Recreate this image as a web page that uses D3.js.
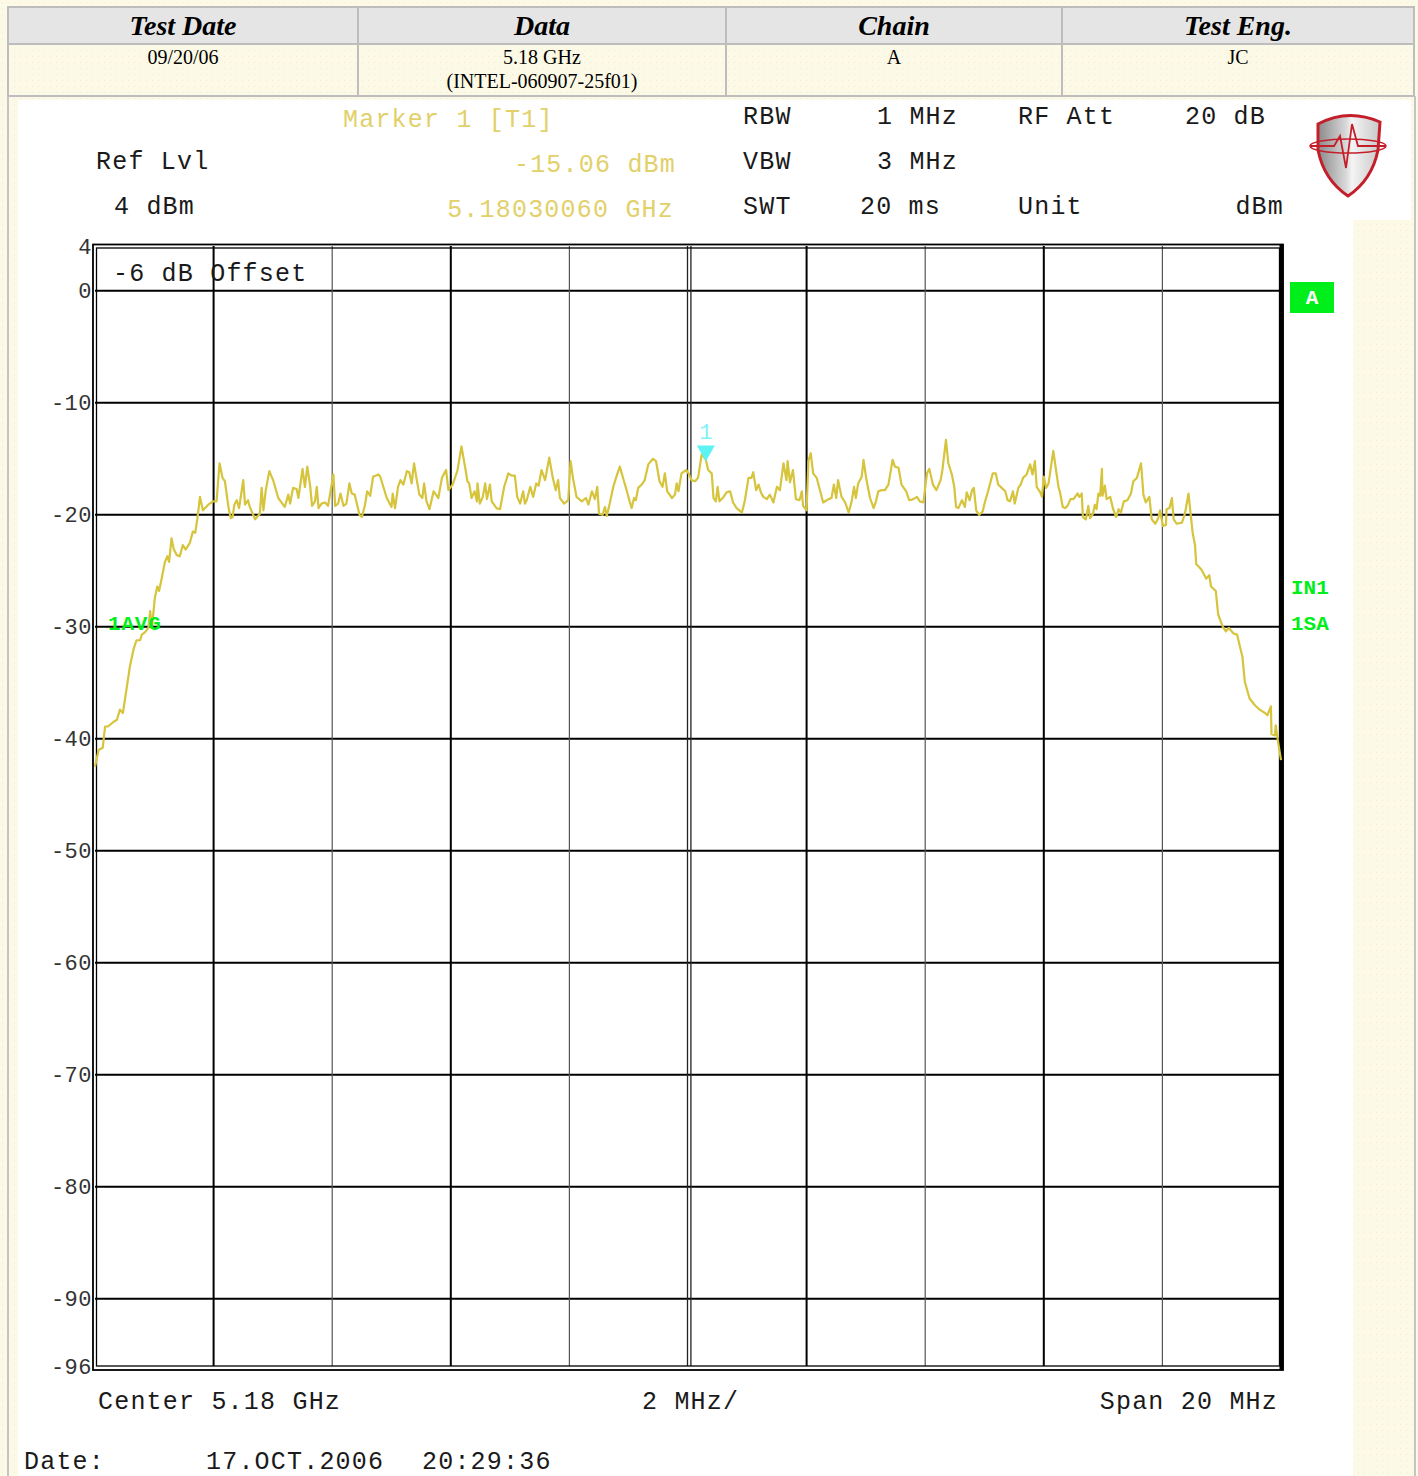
<!DOCTYPE html>
<html>
<head>
<meta charset="utf-8">
<script src="https://cdn.jsdelivr.net/npm/d3@7"></script>
<style>
  body { margin: 0; background: #fcfae6; }
  svg { display: block; }
</style>
</head>
<body>
<script>
// * DATA
const headers = ["Test Date", "Data", "Chain", "Test Eng."];
const cellLines = [["09/20/06"], ["5.18 GHz", "(INTEL-060907-25f01)"], ["A"], ["JC"]];
const colEdges = [8, 358, 726, 1062, 1414];

const yTicks = [4, 0, -10, -20, -30, -40, -50, -60, -70, -80, -90, -96];
const hGrid = [0, -10, -20, -30, -40, -50, -60, -70, -80, -90];
const vGrid = [-8, -6, -4, -2, 2, 4, 6, 8];

const markerFreq = 0.3006; // MHz from centre
const markerLevel = -15.06;

// [MHz offset from 5.18 GHz, dBm]
const spectrum = [
	[-10.00,-42.5],[-9.94,-41.0],[-9.87,-40.8],[-9.83,-38.9],[-9.78,-38.9],[-9.69,-38.5],[-9.63,-38.3],[-9.58,-37.4],[-9.53,-37.7],[-9.47,-35.6],
	[-9.41,-33.5],[-9.35,-32.0],[-9.30,-31.2],[-9.24,-31.2],[-9.21,-30.7],[-9.16,-30.5],[-9.10,-30.1],[-9.07,-28.6],[-9.04,-30.1],[-8.99,-27.4],
	[-8.95,-26.4],[-8.92,-26.8],[-8.88,-25.8],[-8.82,-24.2],[-8.78,-23.7],[-8.75,-24.2],[-8.71,-22.1],[-8.67,-23.1],[-8.62,-23.6],[-8.57,-23.7],
	[-8.52,-22.7],[-8.47,-23.1],[-8.40,-22.5],[-8.35,-21.5],[-8.31,-21.6],[-8.27,-20.2],[-8.23,-18.4],[-8.18,-19.6],[-8.09,-19.1],[-8.01,-18.8],
	[-7.95,-18.8],[-7.90,-15.4],[-7.85,-16.7],[-7.81,-17.0],[-7.75,-19.3],[-7.71,-20.3],[-7.68,-20.2],[-7.65,-19.1],[-7.61,-18.7],[-7.57,-19.4],
	[-7.50,-16.9],[-7.47,-19.1],[-7.42,-18.7],[-7.39,-19.3],[-7.30,-20.4],[-7.22,-19.9],[-7.19,-17.6],[-7.16,-19.6],[-7.12,-17.8],[-7.06,-16.1],
	[-6.99,-17.0],[-6.91,-18.5],[-6.80,-19.3],[-6.74,-18.2],[-6.71,-19.0],[-6.66,-17.6],[-6.60,-17.7],[-6.57,-18.5],[-6.50,-15.9],[-6.46,-17.5],
	[-6.42,-15.7],[-6.37,-17.5],[-6.34,-19.2],[-6.29,-18.8],[-6.26,-17.5],[-6.23,-19.4],[-6.18,-19.0],[-6.12,-18.9],[-6.07,-19.2],[-5.98,-16.4],
	[-5.95,-19.2],[-5.90,-19.0],[-5.86,-18.1],[-5.81,-19.2],[-5.76,-19.0],[-5.71,-17.2],[-5.67,-18.1],[-5.62,-18.2],[-5.54,-20.0],[-5.50,-20.2],
	[-5.45,-19.2],[-5.41,-17.9],[-5.36,-18.3],[-5.31,-16.6],[-5.22,-16.4],[-5.19,-16.6],[-5.08,-18.5],[-5.00,-19.3],[-4.98,-18.1],[-4.94,-19.4],
	[-4.89,-17.5],[-4.85,-16.9],[-4.80,-17.3],[-4.74,-16.1],[-4.70,-16.2],[-4.66,-17.2],[-4.62,-15.4],[-4.58,-16.7],[-4.53,-18.2],[-4.48,-18.5],
	[-4.45,-17.2],[-4.41,-18.8],[-4.36,-19.5],[-4.29,-17.9],[-4.25,-18.2],[-4.21,-18.5],[-4.15,-16.7],[-4.08,-16.0],[-4.04,-17.8],[-3.97,-17.3],
	[-3.89,-16.1],[-3.82,-13.9],[-3.76,-15.7],[-3.72,-17.0],[-3.69,-17.2],[-3.65,-18.5],[-3.60,-17.9],[-3.56,-18.8],[-3.55,-17.2],[-3.51,-19.0],
	[-3.46,-18.4],[-3.42,-17.2],[-3.39,-18.6],[-3.34,-17.3],[-3.31,-18.8],[-3.23,-19.4],[-3.17,-19.5],[-3.10,-17.5],[-3.03,-16.3],[-2.97,-16.5],
	[-2.92,-16.5],[-2.88,-18.4],[-2.83,-19.0],[-2.78,-17.9],[-2.75,-19.0],[-2.72,-18.7],[-2.66,-17.5],[-2.61,-18.4],[-2.56,-17.2],[-2.52,-17.4],
	[-2.47,-16.0],[-2.41,-16.9],[-2.34,-14.9],[-2.28,-16.7],[-2.23,-17.8],[-2.19,-16.9],[-2.16,-18.5],[-2.09,-19.0],[-2.02,-18.7],[-1.98,-15.2],
	[-1.94,-16.7],[-1.88,-18.4],[-1.79,-18.8],[-1.72,-18.5],[-1.68,-19.1],[-1.62,-17.9],[-1.57,-18.6],[-1.53,-17.5],[-1.50,-19.9],[-1.44,-20.0],
	[-1.40,-19.3],[-1.37,-20.1],[-1.32,-19.0],[-1.26,-17.5],[-1.19,-16.3],[-1.15,-15.7],[-1.09,-16.8],[-1.03,-17.9],[-0.99,-18.7],[-0.95,-19.4],
	[-0.91,-18.5],[-0.88,-18.7],[-0.84,-17.6],[-0.78,-17.3],[-0.73,-16.9],[-0.67,-15.5],[-0.59,-15.0],[-0.54,-15.2],[-0.48,-17.0],[-0.43,-17.5],
	[-0.39,-16.3],[-0.35,-17.9],[-0.27,-18.5],[-0.22,-18.2],[-0.19,-17.2],[-0.16,-17.9],[-0.11,-16.3],[-0.03,-16.0],[0.01,-16.3],[0.06,-16.9],
	[0.12,-17.0],[0.17,-16.7],[0.23,-14.6],[0.30,-15.06],[0.34,-16.0],[0.40,-16.3],[0.43,-18.5],[0.47,-18.8],[0.50,-17.5],[0.53,-18.8],
	[0.60,-18.4],[0.65,-18.0],[0.71,-17.9],[0.76,-18.9],[0.82,-19.4],[0.91,-19.8],[0.96,-18.7],[1.02,-16.7],[1.07,-16.7],[1.10,-16.2],
	[1.15,-17.8],[1.19,-17.3],[1.23,-18.0],[1.27,-18.4],[1.33,-18.6],[1.38,-18.2],[1.44,-18.9],[1.50,-17.5],[1.55,-17.8],[1.61,-15.4],
	[1.66,-16.9],[1.68,-15.2],[1.72,-17.1],[1.77,-16.0],[1.82,-18.6],[1.88,-18.7],[1.92,-17.9],[1.94,-19.2],[2.00,-19.6],[2.03,-15.2],
	[2.07,-14.5],[2.11,-16.3],[2.17,-16.7],[2.23,-17.9],[2.28,-18.9],[2.37,-18.6],[2.42,-18.5],[2.46,-17.3],[2.50,-18.5],[2.53,-16.9],
	[2.59,-18.4],[2.65,-18.9],[2.71,-19.8],[2.76,-18.8],[2.80,-17.5],[2.83,-18.5],[2.87,-17.2],[2.93,-16.6],[2.96,-15.1],[3.01,-16.9],
	[3.07,-18.5],[3.13,-19.4],[3.17,-18.8],[3.21,-17.9],[3.27,-17.8],[3.32,-17.8],[3.38,-17.3],[3.45,-15.1],[3.49,-15.7],[3.55,-15.8],
	[3.60,-17.3],[3.68,-17.9],[3.73,-18.7],[3.80,-18.6],[3.86,-18.4],[3.91,-18.8],[3.97,-18.9],[4.03,-16.3],[4.07,-15.9],[4.13,-17.3],
	[4.19,-17.8],[4.26,-16.9],[4.29,-16.0],[4.35,-13.3],[4.39,-15.4],[4.45,-16.4],[4.49,-17.5],[4.52,-19.3],[4.56,-19.4],[4.62,-18.7],
	[4.67,-19.3],[4.70,-18.0],[4.75,-18.7],[4.79,-17.8],[4.82,-17.6],[4.86,-19.6],[4.91,-20.0],[4.97,-19.7],[5.01,-18.8],[5.06,-17.9],
	[5.14,-16.3],[5.19,-16.3],[5.23,-17.3],[5.29,-17.6],[5.35,-17.9],[5.39,-18.7],[5.43,-18.8],[5.48,-17.9],[5.51,-19.0],[5.57,-17.6],
	[5.61,-17.3],[5.65,-16.7],[5.71,-16.4],[5.77,-15.5],[5.81,-16.4],[5.85,-15.2],[5.88,-17.5],[5.94,-18.0],[5.97,-18.4],[6.00,-16.6],
	[6.04,-17.6],[6.08,-17.2],[6.16,-14.3],[6.25,-17.6],[6.27,-17.9],[6.32,-19.3],[6.36,-19.4],[6.40,-19.2],[6.45,-18.6],[6.50,-18.6],
	[6.57,-18.1],[6.60,-18.4],[6.64,-18.1],[6.66,-20.2],[6.71,-20.4],[6.75,-19.2],[6.78,-20.3],[6.83,-19.9],[6.86,-19.1],[6.89,-19.5],
	[6.92,-18.1],[6.95,-18.3],[6.98,-15.9],[6.99,-18.3],[7.03,-17.4],[7.06,-18.6],[7.12,-18.4],[7.17,-19.5],[7.22,-20.2],[7.26,-19.5],
	[7.30,-19.8],[7.35,-18.8],[7.41,-18.7],[7.47,-18.1],[7.51,-17.0],[7.57,-16.7],[7.64,-15.4],[7.68,-18.2],[7.72,-18.9],[7.78,-18.4],
	[7.82,-20.4],[7.88,-20.8],[7.93,-20.3],[7.96,-19.6],[8.01,-21.0],[8.06,-20.9],[8.07,-19.5],[8.12,-19.4],[8.16,-18.5],[8.19,-20.4],
	[8.24,-20.8],[8.33,-20.7],[8.38,-19.9],[8.44,-18.1],[8.51,-21.6],[8.55,-22.7],[8.57,-24.4],[8.66,-24.9],[8.74,-25.7],[8.79,-25.4],
	[8.82,-26.4],[8.90,-26.8],[8.94,-28.9],[9.02,-30.0],[9.07,-30.4],[9.12,-30.1],[9.20,-30.6],[9.26,-30.7],[9.35,-32.7],[9.39,-34.9],
	[9.47,-36.4],[9.56,-37.0],[9.64,-37.4],[9.73,-37.7],[9.77,-37.9],[9.83,-37.1],[9.84,-39.6],[9.90,-39.7],[9.91,-38.8],[9.94,-39.9],
	[10.00,-41.9]
];

// * SETUP
const W = 1418, H = 1476;
const mono = "'Liberation Mono', 'Courier New', monospace";
const serif = "'Liberation Serif', 'Times New Roman', serif";
const traceColor = "#d6c43c";
const labelYellow = "#e2d06a";
const green = "#00ee1a";

const x = d3.scaleLinear().domain([-10, 10]).range([95, 1281]);
const y = d3.scaleLinear().domain([-96, 4]).range([1366, 246]);

const svg = d3.select("body").append("svg")
	.attr("width", W).attr("height", H)
	.attr("viewBox", [0, 0, W, H]);

// dotted paper texture
const defs = svg.append("defs");
const pat = defs.append("pattern").attr("id", "dots")
	.attr("width", 6).attr("height", 6).attr("patternUnits", "userSpaceOnUse");
pat.append("rect").attr("width", 6).attr("height", 6).attr("fill", "#fcfae6");
pat.append("rect").attr("x", 2).attr("y", 2).attr("width", 1).attr("height", 1).attr("fill", "#efead0");

svg.append("rect").attr("width", W).attr("height", H).attr("fill", "url(#dots)");

// * HEADER TABLE
const table = svg.append("g");
table.append("rect").attr("x", colEdges[0]).attr("y", 7)
	.attr("width", colEdges[4] - colEdges[0]).attr("height", 37).attr("fill", "#e5e5e5");
table.selectAll("line.col")
	.data(colEdges)
	.join("line")
	.attr("x1", d => d).attr("x2", d => d).attr("y1", 6).attr("y2", 96)
	.attr("stroke", "#bdbdbd").attr("stroke-width", 2);
[7, 44, 96].forEach(yy => table.append("line")
	.attr("x1", colEdges[0]).attr("x2", colEdges[4]).attr("y1", yy).attr("y2", yy)
	.attr("stroke", "#bdbdbd").attr("stroke-width", 2));
table.selectAll("text.head")
	.data(headers)
	.join("text")
	.attr("x", (d, i) => (colEdges[i] + colEdges[i + 1]) / 2)
	.attr("y", 35)
	.attr("text-anchor", "middle")
	.attr("font-family", serif).attr("font-size", 28)
	.attr("font-weight", "bold").attr("font-style", "italic")
	.text(d => d);
cellLines.forEach((lines, i) => {
	lines.forEach((t, j) => table.append("text")
		.attr("x", (colEdges[i] + colEdges[i + 1]) / 2)
		.attr("y", 64 + j * 24)
		.attr("text-anchor", "middle")
		.attr("font-family", serif).attr("font-size", 20)
		.text(t));
});

// outer frame lines of the report
svg.append("line").attr("x1", 8).attr("x2", 8).attr("y1", 96).attr("y2", H)
	.attr("stroke", "#c4c4c4").attr("stroke-width", 2);
svg.append("line").attr("x1", 1415).attr("x2", 1415).attr("y1", 96).attr("y2", H)
	.attr("stroke", "#c4c4c4").attr("stroke-width", 2);

// white analyser screen
svg.append("rect").attr("x", 18).attr("y", 100).attr("width", 1335).attr("height", H - 100).attr("fill", "#fff");
svg.append("rect").attr("x", 1353).attr("y", 100).attr("width", 58).attr("height", 120).attr("fill", "#fff");

// * SETTINGS TEXT
const info = svg.append("g").attr("font-family", mono).attr("font-size", 25)
	.attr("letter-spacing", 1.2).attr("fill", "#1a1a1a");
const infoItems = [
	["Marker 1 [T1]", 343, 127, "start", labelYellow],
	["RBW", 743, 124, "start"], ["1 MHz", 958, 124, "end"],
	["RF Att", 1018, 124, "start"], ["20 dB", 1266, 124, "end"],
	["Ref Lvl", 96, 169, "start"], ["-15.06 dBm", 676, 172, "end", labelYellow],
	["VBW", 743, 169, "start"], ["3 MHz", 958, 169, "end"],
	["4 dBm", 114, 214, "start"], ["5.18030060 GHz", 674, 217, "end", labelYellow],
	["SWT", 743, 214, "start"], ["20 ms", 941, 214, "end"],
	["Unit", 1018, 214, "start"], ["dBm", 1284, 214, "end"],
	["Center 5.18 GHz", 98, 1409, "start"], ["2 MHz/", 642, 1409, "start"],
	["Span 20 MHz", 1278, 1409, "end"],
	["Date:", 24, 1469, "start"], ["17.OCT.2006", 206, 1469, "start"], ["20:29:36", 422, 1469, "start"]
];
info.selectAll("text")
	.data(infoItems)
	.join("text")
	.attr("x", d => d[1]).attr("y", d => d[2])
	.attr("text-anchor", d => d[3])
	.attr("fill", d => d[4] || "#1a1a1a")
	.text(d => d[0]);

// * LOGO
const logo = svg.append("g");
const shieldGrad = defs.append("linearGradient").attr("id", "shield");
shieldGrad.append("stop").attr("offset", "0%").attr("stop-color", "#8a8a8a");
shieldGrad.append("stop").attr("offset", "45%").attr("stop-color", "#d8d8d8");
shieldGrad.append("stop").attr("offset", "55%").attr("stop-color", "#f4f4f4");
shieldGrad.append("stop").attr("offset", "100%").attr("stop-color", "#c8c8c8");
logo.append("path")
	.attr("d", "M1318,124 Q1348,108 1380,122 L1378,150 Q1372,180 1348,196 Q1324,180 1318,150 Z")
	.attr("fill", "url(#shield)").attr("stroke", "#c41e2a").attr("stroke-width", 3);
logo.append("ellipse").attr("cx", 1348).attr("cy", 146).attr("rx", 38).attr("ry", 7)
	.attr("fill", "none").attr("stroke", "#c41e2a").attr("stroke-width", 1.5);
logo.append("path")
	.attr("d", "M1310,146 L1334,146 L1340,136 L1346,168 L1352,124 L1358,146 L1386,146")
	.attr("fill", "none").attr("stroke", "#c41e2a").attr("stroke-width", 1.8);

// * GRID
const grid = svg.append("g");
grid.selectAll("line.h")
	.data(hGrid)
	.join("line")
	.attr("x1", x(-10)).attr("x2", x(10))
	.attr("y1", d => y(d)).attr("y2", d => y(d))
	.attr("stroke", "#000").attr("stroke-width", 2);
grid.selectAll("line.v")
	.data(vGrid)
	.join("line")
	.attr("x1", d => x(d)).attr("x2", d => x(d))
	.attr("y1", y(4)).attr("y2", y(-96))
	.attr("stroke", (d, i) => (i % 2 === 0 ? "#000" : "#555"))
	.attr("stroke-width", (d, i) => (i % 2 === 0 ? 2 : 1.2));
// double centre line
[-1.5, 1.9].forEach(dx => grid.append("line")
	.attr("x1", x(0) + 1 + dx).attr("x2", x(0) + 1 + dx)
	.attr("y1", y(4)).attr("y2", y(-96))
	.attr("stroke", "#222").attr("stroke-width", 1.3));

// frame: double on left/top/bottom, heavy on right
grid.append("rect").attr("x", x(-10) - 2).attr("y", y(4) - 1.5)
	.attr("width", x(10) - x(-10) + 4).attr("height", y(-96) - y(4) + 5.5)
	.attr("fill", "none").attr("stroke", "#000").attr("stroke-width", 1.8);
grid.append("rect").attr("x", x(-10) + 1.5).attr("y", y(4) + 2)
	.attr("width", x(10) - x(-10) - 3).attr("height", y(-96) - y(4) - 2)
	.attr("fill", "none").attr("stroke", "#000").attr("stroke-width", 1.3);
grid.append("line").attr("x1", x(10) + 0.5).attr("x2", x(10) + 0.5)
	.attr("y1", y(4) - 1.5).attr("y2", y(-96) + 4)
	.attr("stroke", "#000").attr("stroke-width", 4);

// * Y AXIS LABELS
svg.append("g")
	.attr("transform", `translate(${x(-10) - 1},0)`)
	.call(d3.axisLeft(y).tickValues(yTicks).tickSize(0).tickPadding(2)
		.tickFormat(d => String(d)))
	.call(g => g.select(".domain").remove())
	.call(g => g.selectAll("text")
		.attr("font-family", mono).attr("font-size", 22)
		.attr("letter-spacing", 0.5)
		.attr("fill", "#333"));

svg.append("text")
	.attr("x", 113).attr("y", 281)
	.attr("font-family", mono).attr("font-size", 25).attr("letter-spacing", 1.2)
	.attr("fill", "#1a1a1a")
	.text("-6 dB Offset");

// * TRACE
const line = d3.line().x(d => x(d[0])).y(d => y(d[1]));
svg.append("path")
	.datum(spectrum)
	.attr("fill", "none")
	.attr("stroke", traceColor)
	.attr("stroke-width", 2.2)
	.attr("stroke-linejoin", "round")
	.attr("d", line);

// * MARKER
const mx = x(markerFreq), my = y(markerLevel);
svg.append("path")
	.attr("d", `M${mx},${my + 2} L${mx - 9},${my - 14} L${mx + 9},${my - 14} Z`)
	.attr("fill", "#5ef3f3");
svg.append("text")
	.attr("x", mx).attr("y", my - 20)
	.attr("text-anchor", "middle")
	.attr("font-family", mono).attr("font-size", 22)
	.attr("fill", "#7ff3f3")
	.text("1");

// * SIDE LABELS
const side = svg.append("g").attr("font-family", mono).attr("font-weight", "bold")
	.attr("font-size", 21).attr("fill", green);
side.append("text").attr("x", 108).attr("y", 630).attr("letter-spacing", 0.8).text("1AVG");
side.append("rect").attr("x", 1290).attr("y", 282).attr("width", 44).attr("height", 31).attr("fill", green);
side.append("text").attr("x", 1312).attr("y", 304).attr("text-anchor", "middle").attr("fill", "#fff").text("A");
side.append("text").attr("x", 1291).attr("y", 594).text("IN1");
side.append("text").attr("x", 1291).attr("y", 630).text("1SA");
</script>
</body>
</html>
